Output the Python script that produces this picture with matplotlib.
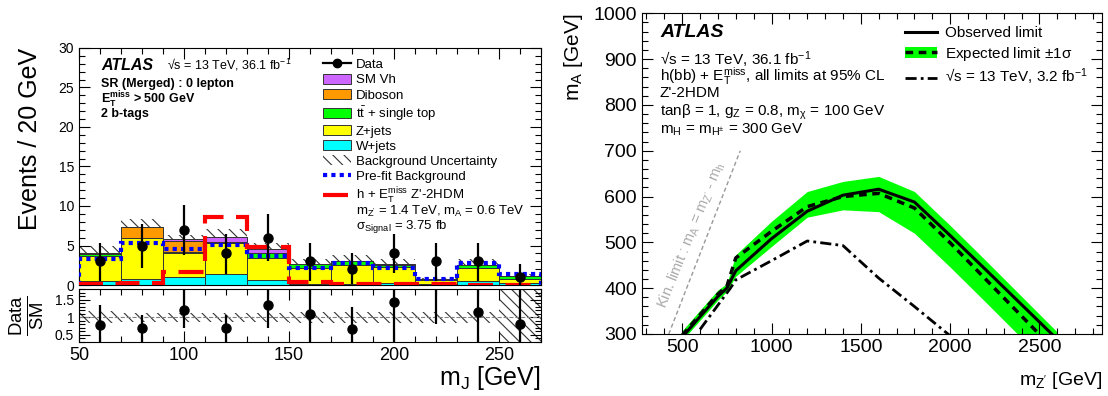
import matplotlib
matplotlib.use("Agg")
import matplotlib.pyplot as plt
import numpy as np
from matplotlib.lines import Line2D
from matplotlib.patches import Patch
from matplotlib.ticker import MultipleLocator

plt.rcParams["font.family"] = ["Liberation Sans", "DejaVu Sans"]
plt.rcParams["mathtext.fontset"] = "custom"
plt.rcParams["mathtext.rm"] = "Liberation Sans"
plt.rcParams["mathtext.it"] = "Liberation Sans:italic"
plt.rcParams["mathtext.bf"] = "Liberation Sans:bold"
plt.rcParams["mathtext.default"] = "rm"
plt.rcParams["hatch.linewidth"] = 0.8


# Left panel: m_J in the merged 0-lepton signal region
edges = [50, 70, 90, 110, 130, 150, 170, 190, 210, 230, 250, 270]
wjets = [0.55, 0.72, 1.05, 1.39, 0.63, 0.15, 0.15, 0.3, 0.15, 0.45, 0.2]
zjets = [3.12, 5.18, 3.04, 3.89, 2.83, 2.05, 2.35, 2.0, 0.5, 1.75, 0.52]
ttbar = [0.23, 0.05, 0.05, 0.05, 0.55, 0.4, 0.55, 0.25, 0.05, 0.3, 0.42]
diboson = [0.19, 1.36, 1.39, 0.1, 0.05, 0.03, 0.02, 0.15, 0.02, 0.02, 0.0]
smvh = [0.02, 0.05, 0.3, 0.67, 0.5, 0.02, 0.02, 0.02, 0.0, 0.0, 0.0]
bkg_unc = [0.8, 1.0, 0.45, 1.0, 0.7, 0.6, 0.75, 0.55, 0.15, 0.75, 0.3]
prefit = [3.25, 5.36, 4.56, 5.06, 3.67, 2.1, 2.8, 2.2, 0.72, 2.75, 1.35]
signal = [0.1, 0.2, 1.7, 8.57, 4.85, 0.42, 0.15, 0.1, 0.1, 0.05, 0.05]
data = [3, 5, 7, 4, 6, 3, 2, 4, 3, 3, 1]
data_lo = [0.55, 2.2, 3.75, 1.4, 3.05, 0.55, 0.1, 1.5, 0.55, 0.55, 0.0]
data_hi = [5.28, 7.68, 10.16, 6.49, 8.99, 5.28, 4.0, 6.5, 5.28, 5.28, 2.66]

ratio = [0.78, 0.71, 1.22, 0.69, 1.35, 1.11, 0.67, 1.45, 4.2, 1.14, 0.81]
ratio_lo = [0.0, 0.0, 0.69, 0.0, 0.71, 0.0, 0.0, 0.0, 0.81, 0.0, 0.0]
ratio_hi = [1.35, 1.07, 2.5, 1.07, 2.5, 2.5, 1.29, 2.5, 6.0, 2.5, 2.5]
ratio_unc = [0.17, 0.13, 0.13, 0.13, 0.13, 0.15, 0.15, 0.15, 0.15, 0.15, 0.8]

# Right panel: limits in the (m_Z', m_A) plane
mzp = [500, 600, 700, 750, 800, 1000, 1200, 1400, 1600, 1800, 2000, 2200, 2400, 2600]
ma_obs = [293, 338, 382, 400, 438, 508, 568, 603, 616, 588, 515, 440, 364, 288]
ma_exp = [297, 342, 387, 404, 466, 524, 578, 600, 607, 575, 499, 419, 339, 259]
ma_up = [307, 352, 396, 410, 473, 546, 611, 633, 644, 611, 537, 460, 382, 304]
ma_dn = [286, 330, 374, 393, 426, 491, 555, 571, 567, 520, 446, 369, 291, 214]
mzp_prev = [600, 770, 800, 1000, 1200, 1400, 1600, 1800, 2000]
ma_prev = [310, 400, 418, 460, 503, 493, 422, 360, 296]
kin_mzp = [425, 825]
kin_ma = [300, 700]


def _atlas_ticks(ax, xmaj, xmin, ymaj, ymin, labelsize=13):
    ax.xaxis.set_major_locator(MultipleLocator(xmaj))
    ax.xaxis.set_minor_locator(MultipleLocator(xmin))
    ax.yaxis.set_major_locator(MultipleLocator(ymaj))
    ax.yaxis.set_minor_locator(MultipleLocator(ymin))
    ax.tick_params(which="both", direction="in", top=True, right=True,
                   labelsize=labelsize, width=0.8)
    ax.tick_params(which="major", length=8)
    ax.tick_params(which="minor", length=4)


fig = plt.figure(figsize=(11.08, 3.96), dpi=100)
ax0 = fig.add_axes([0.0713, 0.2803, 0.4170, 0.5985])
ax1 = fig.add_axes([0.0713, 0.1364, 0.4170, 0.1330], sharex=ax0)
ax2 = fig.add_axes([0.5794, 0.1566, 0.4152, 0.8098])

edges = np.array(edges)
centers = 0.5 * (edges[:-1] + edges[1:])
width = np.diff(edges)

# stacked backgrounds
components = [
    (wjets, "#00ffff", "W+jets"),
    (zjets, "#ffff00", "Z+jets"),
    (ttbar, "#00ff00", r"t$\bar{\mathrm{t}}$ + single top"),
    (diboson, "#ff9900", "Diboson"),
    (smvh, "#cc66ff", "SM Vh"),
]
bottom = np.zeros(len(centers))
handles = {}
for vals, col, lab in components:
    ax0.bar(centers, vals, width=width, bottom=bottom, color=col,
            edgecolor="#333333", linewidth=0.7, zorder=2)
    handles[lab] = Patch(facecolor=col, edgecolor="#333333", linewidth=0.7)
    bottom = bottom + np.array(vals)
total = bottom

unc = np.array(bkg_unc)
ax0.bar(centers, 2 * unc, width=width, bottom=total - unc, fill=False,
        hatch="\\\\\\", linewidth=0, edgecolor="#333333", zorder=1)
ax0.stairs(prefit, edges, color="#0000ff", linewidth=3,
           linestyle=(0, (1, 1)), zorder=3)
ax0.stairs(signal, edges, color="#ff0000", linewidth=3,
           linestyle=(0, (6, 3)), zorder=3)
data = np.array(data)
ax0.errorbar(centers, data,
             yerr=[data - np.array(data_lo), np.array(data_hi) - data],
             fmt="o", color="black", markersize=6.5, elinewidth=1.6,
             capsize=0, zorder=5)

ax0.set_xlim(50, 270)
ax0.set_ylim(0, 30)
_atlas_ticks(ax0, 50, 10, 5, 1, labelsize=10)
ax0.tick_params(labelbottom=False)
ax0.set_ylabel("Events / 20 GeV", fontsize=18, loc="top", labelpad=12)

ax0.text(0.048, 0.928, "ATLAS", transform=ax0.transAxes, fontsize=11.5,
         fontweight="bold", style="italic", va="center")
ax0.text(0.19, 0.928, r"√s = 13 TeV, 36.1 fb$^{-1}$", transform=ax0.transAxes,
         fontsize=9, va="center")
ax0.text(0.048, 0.848, "SR (Merged) : 0 lepton", transform=ax0.transAxes,
         fontsize=9, fontweight="bold", va="center")
ax0.text(0.048, 0.78, r"$\mathbf{E}_{\mathbf{T}}^{\mathbf{miss}}$ > 500 GeV",
         transform=ax0.transAxes, fontsize=9, fontweight="bold", va="center")
ax0.text(0.048, 0.72, "2 b-tags", transform=ax0.transAxes, fontsize=9,
         fontweight="bold", va="center")

leg_handles = [
    Line2D([], [], color="black", marker="o", markersize=6, linewidth=1.6),
    handles["SM Vh"], handles["Diboson"],
    handles[r"t$\bar{\mathrm{t}}$ + single top"],
    handles["Z+jets"], handles["W+jets"],
    Patch(facecolor="white", hatch="\\\\\\", edgecolor="#333333", linewidth=0),
    Line2D([], [], color="#0000ff", linewidth=3, linestyle=(0, (1, 1))),
    Line2D([], [], color="#ff0000", linewidth=3, linestyle=(0, (6, 3))),
]
leg_labels = ["Data", "SM Vh", "Diboson", r"t$\bar{\mathrm{t}}$ + single top",
              "Z+jets", "W+jets", "Background Uncertainty",
              "Pre-fit Background", r"h + E$_{\mathrm{T}}^{\mathrm{miss}}$ Z'-2HDM"]
ax0.legend(leg_handles, leg_labels, loc="upper left",
           bbox_to_anchor=(0.528, 0.955), frameon=False, fontsize=9.5,
           handlelength=2.1, handleheight=0.8, handletextpad=0.4,
           labelspacing=0.19, borderpad=0, borderaxespad=0)
ax0.text(0.6, 0.31, r"m$_{\mathrm{Z'}}$ = 1.4 TeV, m$_{\mathrm{A}}$ = 0.6 TeV",
         transform=ax0.transAxes, fontsize=9.5, va="center")
ax0.text(0.6, 0.248, r"$\sigma_{\mathrm{Signal}}$ = 3.75 fb",
         transform=ax0.transAxes, fontsize=9.5, va="center")

# ratio panel
runc = np.array(ratio_unc)
ax1.bar(centers, 2 * runc, width=width, bottom=1 - runc, fill=False,
        hatch="\\\\\\", linewidth=0, edgecolor="#333333", zorder=1)
ax1.axhline(1, color="gray", linestyle="--", linewidth=0.8, zorder=2)
ratio = np.array(ratio)
ax1.errorbar(centers, ratio,
             yerr=[ratio - np.array(ratio_lo), np.array(ratio_hi) - ratio],
             fmt="o", color="black", markersize=6.5, elinewidth=1.6,
             capsize=0, zorder=5)
ax1.set_ylim(0.3, 1.8)
_atlas_ticks(ax1, 50, 10, 0.5, 0.1, labelsize=13)
ax1.yaxis.set_major_formatter(plt.FuncFormatter(lambda v, p: f"{v:g}"))
ax1.tick_params(axis="y", labelsize=10)
ax1.set_yticks([0.5, 1.0, 1.5])
ax1.set_ylabel(r"$\frac{\mathrm{Data}}{\mathrm{SM}}$", fontsize=19, labelpad=6)
ax1.set_xlabel(r"m$_{\mathrm{J}}$ [GeV]", fontsize=18, loc="right", labelpad=0)

# right panel: exclusion contour
ax2.fill_between(mzp, ma_dn, ma_up, color="#00ff00", linewidth=0)
ax2.plot(mzp, ma_obs, color="black", linewidth=2.2)
ax2.plot(mzp, ma_exp, color="black", linewidth=2.5, linestyle=(0, (2.2, 1.6)))
ax2.plot(mzp_prev, ma_prev, color="black", linewidth=2,
         linestyle=(0, (4, 1.5, 1, 1.5)))
ax2.plot(kin_mzp, kin_ma, color="#999999", linewidth=1, linestyle=(0, (3, 2)))
ax2.text(0.108, 0.31, r"Kin. limit : m$_{\mathrm{A}}$ = m$_{\mathrm{Z'}}$ - m$_{\mathrm{h}}$",
         transform=ax2.transAxes, rotation=68, color="#aaaaaa", fontsize=10.5,
         ha="center", va="center")
ax2.set_xlim(275, 2850)
ax2.set_ylim(300, 1000)
_atlas_ticks(ax2, 500, 100, 100, 20, labelsize=14)
ax2.set_xlabel(r"m$_{\mathrm{Z'}}$ [GeV]", fontsize=14, loc="right", labelpad=10)
ax2.set_ylabel(r"m$_{\mathrm{A}}$ [GeV]", fontsize=15, loc="top", labelpad=6)

ax2.text(0.039, 0.939, "ATLAS", transform=ax2.transAxes, fontsize=14,
         fontweight="bold", style="italic", va="center")
right_lines = [
    (0.854, r"√s = 13 TeV, 36.1 fb$^{-1}$"),
    (0.804, r"h(bb) + E$_{\mathrm{T}}^{\mathrm{miss}}$, all limits at 95% CL"),
    (0.751, "Z'-2HDM"),
    (0.692, r"tanβ = 1, g$_{\mathrm{Z}}$ = 0.8, m$_{\mathrm{χ}}$ = 100 GeV"),
    (0.636, r"m$_{\mathrm{H}}$ = m$_{\mathrm{H^{\pm}}}$ = 300 GeV"),
]
for yy, txt in right_lines:
    ax2.text(0.039, yy, txt, transform=ax2.transAxes, fontsize=11, va="center")

r_handles = [
    Line2D([], [], color="black", linewidth=2.2),
    (Patch(facecolor="#00ff00", linewidth=0),
     Line2D([], [], color="black", linewidth=2.5, linestyle=(0, (2.2, 1.6)))),
    Line2D([], [], color="black", linewidth=2, linestyle=(0, (4, 1.5, 1, 1.5))),
]
r_labels = ["Observed limit", r"Expected limit $\pm$1σ",
            r"√s = 13 TeV, 3.2 fb$^{-1}$"]
ax2.legend(r_handles, r_labels, loc="upper left", bbox_to_anchor=(0.572, 0.96),
           frameon=False, fontsize=11, handlelength=2.1, handletextpad=0.5,
           labelspacing=0.3, borderpad=0, borderaxespad=0)

fig.savefig("out.png", dpi=100)
